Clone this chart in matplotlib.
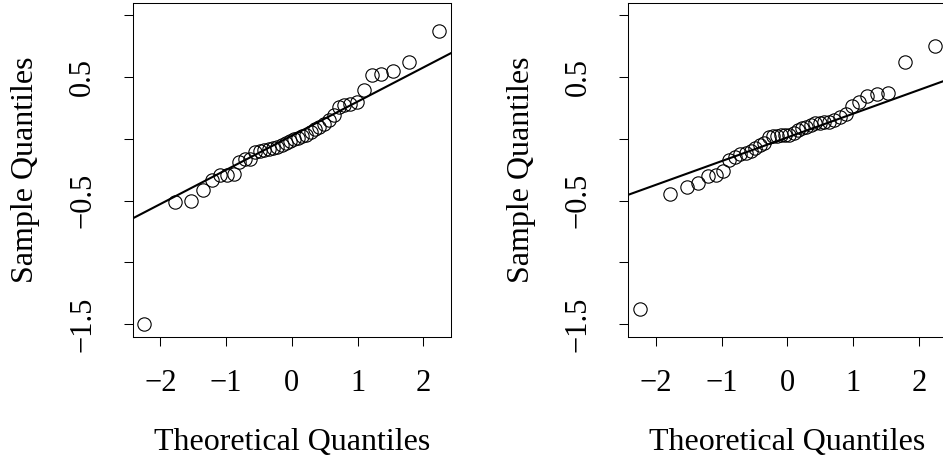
import matplotlib
matplotlib.use("Agg")
import matplotlib.pyplot as plt
import numpy as np

plt.rcParams["font.family"] = ["Liberation Serif", "DejaVu Serif"]

# normal quantiles for n = 40, (i - 0.5) / n
theo_neg = [-2.241, -1.780, -1.534, -1.356, -1.213, -1.092, -0.984, -0.887, -0.798, -0.714,
            -0.636, -0.561, -0.489, -0.419, -0.352, -0.286, -0.221, -0.157, -0.094, -0.031]
theo = np.array(theo_neg + [-v for v in theo_neg[::-1]])

# sorted sample values
sample_left = [-1.498, -0.513, -0.507, -0.413, -0.330, -0.295, -0.290, -0.285, -0.190, -0.165,
               -0.160, -0.105, -0.097, -0.090, -0.085, -0.075, -0.062, -0.050, -0.030, -0.015,
               -0.005, 0.005, 0.020, 0.032, 0.055, 0.080, 0.100, 0.120, 0.150, 0.195,
               0.262, 0.272, 0.285, 0.302, 0.397, 0.518, 0.525, 0.553, 0.626, 0.874]
sample_right = [-1.379, -0.445, -0.386, -0.357, -0.300, -0.290, -0.260, -0.170, -0.150, -0.125,
                -0.115, -0.095, -0.070, -0.050, -0.030, 0.012, 0.020, 0.025, 0.028, 0.030,
                0.035, 0.050, 0.070, 0.088, 0.100, 0.115, 0.125, 0.130, 0.135, 0.138,
                0.152, 0.180, 0.205, 0.270, 0.300, 0.350, 0.362, 0.372, 0.621, 0.748]

yticks = [-1.5, -1.0, -0.5, 0.0, 0.5, 1.0]
ytick_labels = ["\u22121.5", "", "\u22120.5", "", "0.5", ""]
xticks = [-2, -1, 0, 1, 2]
xtick_labels = ["\u22122", "\u22121", "0", "1", "2"]

W, H = 943, 457
fig = plt.figure(figsize=(W / 100, H / 100), dpi=100)


def qqline(y):
    # R's qqline: line through the 1st and 3rd quartiles
    q1, q3 = np.percentile(y, [25, 75])
    z1, z3 = -0.6745, 0.6745
    slope = (q3 - q1) / (z3 - z1)
    return q1 - slope * z1, slope


def panel(left_px, y):
    ax = fig.add_axes([left_px / W, 1 - 336.5 / H, 318.3 / W, 333.5 / H])
    y = np.array(y)
    ax.plot(theo, y, "o", mfc="none", mec="black", ms=9.6, mew=0.8)
    b0, b1 = qqline(y)
    xx = np.array([-3, 3])
    ax.plot(xx, b0 + b1 * xx, color="black", lw=1.5)
    ax.set_xlim(-2.42, 2.42)
    ax.set_ylim(-1.6, 1.1)
    ax.set_xticks(xticks)
    ax.set_xticklabels(xtick_labels, fontsize=22)
    ax.set_yticks(yticks)
    ax.set_yticklabels(ytick_labels, fontsize=22, rotation=90, va="center")
    ax.tick_params(direction="out", length=6.7, width=0.75, color="black")
    ax.tick_params(axis="x", pad=17)
    ax.tick_params(axis="y", pad=19)
    for s in ax.spines.values():
        s.set_linewidth(0.75)
    ax.set_xlabel("Theoretical Quantiles", fontsize=23, labelpad=21)
    ax.set_ylabel("Sample Quantiles", fontsize=23, labelpad=20)
    return ax


panel(132.7, sample_left)
panel(628.3, sample_right)

fig.savefig("out.png", dpi=100, facecolor="white")
